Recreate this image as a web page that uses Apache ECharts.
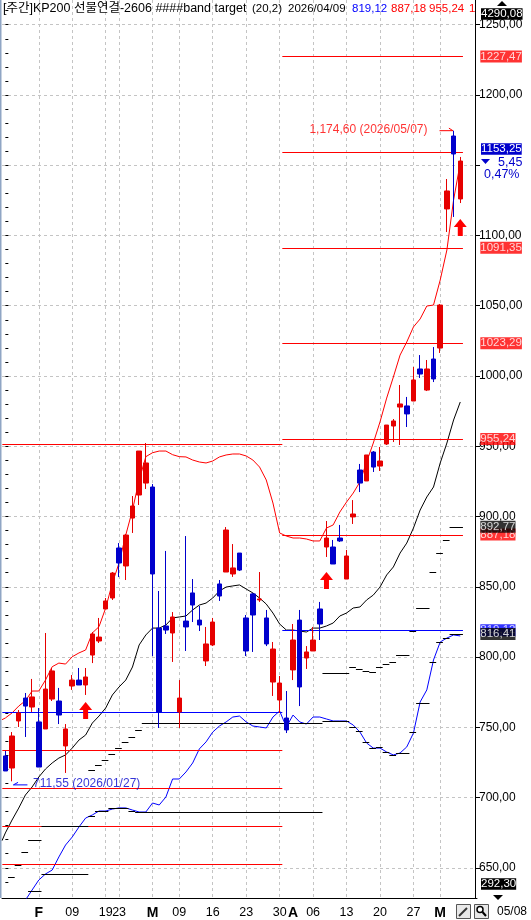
<!DOCTYPE html>
<html><head><meta charset="utf-8">
<style>html,body{margin:0;padding:0;background:#fff}#c{width:531px;height:920px}</style>
<script src="https://cdn.jsdelivr.net/npm/echarts@6/dist/echarts.min.js"></script>
</head><body><div id="c"></div>
<script>
const FONT = '"Liberation Sans","Noto Sans CJK KR",sans-serif';
const RED='#ff0000', CRED='#e60000', BLUE='#0000ff', CBLUE='#0000cc';
// category ticks
const tickIndex=[0,5,10,15,17,22,26,31,36,41,43,46,51,56,61,65];
const tickLabels=['','F','09','19','23','M','09','16','23','30','A','06','13','20','27','M'];
const gridIndex=[5,10,15,17,22,26,31,36,41,46,51,56,61,65];
const slotCount=71;
const yMajor=[650,700,750,800,850,900,950,1000,1050,1100,1200,1250];
// [open, close, low, high]
const candles=[
[729.6,718.9,718.9,733.1],[721,743.8,711.55,746.6],[754.5,760.2,750.2,762.3],[770.8,765.1,743.1,774.4],
[764.4,771.6,760.9,784.4],[753.8,721.7,721.7,763.7],[748.8,777.2,748.8,817.1],[770.1,790.1,768.7,792.2],
[768.7,758.7,752.3,778],[736.7,748.8,717.5,752.3],[779.4,783.6,776.6,787.2],[783.6,780.1,780.1,792.2],
[780.1,785.8,773,792.2],[801.4,816.4,795.7,817.8],[811.4,814.2,810,827.8],[834.2,839.9,834.2,842],
[842,859.8,840.6,860.5],[877.6,866.9,856.9,881.1],[864.8,886.8,854.8,887.6],[898.9,907.5,888.3,914.6],
[915.3,946.6,908.2,946.6],[923.8,938.1,919.6,952.3],[921,859.1,800.7,923.1],[820.6,760.9,749.5,847],
[822.1,819.2,816.4,875.5],[817.1,828.5,796.5,832],[760.9,770.8,749.5,783.6],[825.6,821.4,804.3,886.1],
[845.6,837,824.9,855.5],[826.3,822.8,818.5,836.3],[797.2,809.3,793.6,821.4],[808.6,824.9,807.8,827.8],
[852,843.4,839.9,854.8],[860.5,890.4,860.5,892.5],[859.1,863.4,857,880.4],[874,861.9,861.2,874],
[827.8,804.3,800.7,829.9],[844.9,829.9,803.6,845.6],[840.6,841.3,839.2,860.5],[827.8,809.3,807.8,833.5],
[782.2,805.7,772.3,810.7],[769.4,781.5,760.2,786.5],[756.6,748.1,745.9,775.8],[790.8,812.1,783.6,823.5],
[826.3,778.7,765.1,833.5],[799.3,803.6,791.5,807.8],[804.3,812.1,804.3,821.4],[834.2,823.5,812.1,839.2],
[878.3,884.7,871.2,896.8],[878.3,866.2,866.2,883.3],[884.7,882.6,881.9,894],[855.5,871.9,855.5,876.2],
[899.7,901.8,894.7,911.7],[933.1,923.8,917.4,937.4],[925.3,943.8,925.3,943.8],[945.9,935.2,931.7,946.6],
[935.9,939.5,932.4,949.5],[951.6,965.1,950.9,965.1],[964.4,968,953,969.4],[977.9,980.1,950.9,993.6],
[978.7,973,963.7,985.1],[982.2,997.2,982.2,1006.4],[1005,1001.4,998.6,1014.9],[990,1005,989.3,1011.4],
[1012.1,997.9,995.7,1020.6],[1019.9,1050.5,1016.4,1051.2],[1118.9,1131.7,1102.5,1140.2],[1170.8,1158,1113.2,1174.6],
[1126,1153,1123.1,1155.9]];
const upperBand=[756.6,760.2,765.1,768.9,775.8,775.8,783.6,793.1,795.7,795,800.2,802.9,805,817.1,821.6,834.9,852.7,866.9,886.8,904.6,926,942.6,945.4,946.6,946.6,944,942.6,942.4,940.2,938.8,938.1,939.5,942.4,943.8,944.5,944.5,943.1,940.2,935.2,926,909.6,888.3,886.1,884.7,884.7,884,882.6,882.6,891.8,894,903.2,910.3,916.7,924.6,938.8,952.3,967.3,984.3,999.3,1014.9,1024.2,1034.9,1040.6,1049.8,1050.5,1068.3,1089.7,1125.3,1151.6];
const midBand=[674.8,684,692.5,701.8,707.5,714.6,720.3,724.6,728.1,730.3,735.2,740.9,744.5,753,758,763.7,773,778.7,783.6,792.9,808.6,815.7,820.6,820.6,822.8,827.8,828.5,829.2,833.5,837,838.4,842,847,849.8,850.6,851.3,848.4,845.6,842,837.7,831.3,823.5,819.2,819.2,818.5,817.8,820.6,820.6,822.1,824.2,829.2,831.3,834.9,835.6,840.6,844.1,849.8,858.4,864.1,874,881.1,891.8,904.6,913.9,921,938.1,952.3,968.7,981.5];
const lowerBand=[null,null,null,627,634.2,641.3,645.6,648.4,657.7,666.2,671.9,679,685.4,687.6,690.4,690.4,691.8,692.6,692.6,691.1,689.7,689.7,696.1,694.7,700.4,713.2,713.2,718.2,724.6,734.6,739.6,746.6,750.9,753.8,757.3,758,753.8,750.9,750.2,749.5,757.3,761.6,750.2,758.7,753.8,752.3,757.3,757.3,755.9,754.5,754.5,754.5,751.6,746.6,738.8,735.2,735.2,732.4,730.3,731.7,736,745.9,768,776.6,797.9,810.7,813.5,815.7,815];
// band values just off the left edge of the window
const upperLead=[-0.5,755.4];
const midLead=[-0.5,669.3];
// horizontal segments: [from slot, to slot, value]
const redLeft=[[-0.45,41.4,951.3],[-0.45,41.4,733.7],[-0.45,41.4,706.7],[-0.45,41.4,679.7],[-0.45,41.4,652.7]];
const redRight=[[41.4,68.4,1227.47],[41.4,68.4,1159.41],[41.4,68.4,1091.35],[41.4,68.4,1023.29],[41.4,68.4,955.24],[41.4,68.4,887.18]];
const blueLines=[[-0.45,41.4,760.6],[41.4,68.4,819.12]];
const stepsLow=[[0.4,1.4,643.4],[1.4,2.4,652],[2.4,3.4,661.2],[3.4,5.4,669.8],[3.4,5.4,633.5],[5.4,12.4,645.6],[5.4,12.4,679.7],[12.4,13.4,686.9],[13.4,15.4,690.4],[15.4,18.4,692.6],[18.4,19.4,690.4],[19.4,47.4,689.7]];
const stepsMid=[[12.4,13.4,719.6],[13.4,14.4,723.1],[14.4,15.4,726.7],[15.4,16.4,731],[16.4,17.4,735.2],[17.4,18.4,739.5],[18.4,19.4,743.1],[19.4,20.4,748.1],[20.4,47.4,753],[47.4,51.4,754.5],[51.4,52.4,750.2],[52.4,53.4,747.3],[53.4,54.4,739.5],[54.4,55.4,735.2],[55.4,56.4,735.9],[56.4,57.4,732.4],[57.4,58.4,730.3],[58.4,60.4,731.7],[60.4,61.4,746.6],[61.4,63.4,767.3],[63.4,64.4,796.5],[64.4,65.4,810.7],[65.4,66.4,813.5],[66.4,68.4,816.4]];
const stepsHigh=[[47.4,51.4,788.6],[51.4,52.4,792.9],[52.4,53.4,791.5],[53.4,54.4,790.1],[54.4,55.4,789.3],[55.4,56.4,792.9],[56.4,57.4,795],[57.4,58.4,796.5],[58.4,60.4,801.4],[60.4,61.4,818.5],[61.4,63.4,834.9],[63.4,64.4,860.5],[64.4,65.4,874],[65.4,66.4,883.3],[66.4,68.4,892.5]];
const signalArrows=[[12,761.9],[48,854.5],[68,1105.7]];
const tags=[['1227,47',1227.47,RED],['1091,35',1091.35,RED],['1023,29',1023.29,RED],['955,24',955.24,RED],['819,12',819.12,BLUE],['816,41',816.41,'#000'],['887,18',887.18,RED],['892,77',892.77,'#000']];
const headText=[['[주간]KP200 선물연결-2606 ####band target',3,'#000',12.5],['(20,2)',252,'#000',11.5],['2026/04/09',288,'#000',11.5],['819,12',352,BLUE,11.5],['887,18',391,RED,11.5],['955,24',429,RED,11.5],['1',469,RED,11.5]];

const categories=Array.from({length:slotCount},(_,i)=>{const k=tickIndex.indexOf(i);return k>=0?tickLabels[k]:''});
const seq=a=>a.map((v,i)=>[i,v]);
const lineS=(name,data,color)=>({name,type:'line',xAxisIndex:1,yAxisIndex:0,data,showSymbol:false,symbol:'none',silent:true,connectNulls:false,lineStyle:{color,width:1},z:2,animation:false});
const segS=(name,data,color,z)=>({name,type:'custom',xAxisIndex:1,yAxisIndex:0,data,silent:true,z:z||3,clip:false,encode:{x:[0,1],y:2},animation:false,
  renderItem:(p,api)=>{const a=api.coord([api.value(0),api.value(2)]),b=api.coord([api.value(1),api.value(2)]);const y=Math.round(a[1])+0.5;
    return {type:'line',shape:{x1:a[0],y1:y,x2:b[0],y2:y},style:{stroke:color,lineWidth:1}}}});
const gfxText=(text,x,y,fill,size)=>({type:'text',x,y,z:20,style:{text,fill,font:(size||12)+'px '+FONT,textVerticalAlign:'middle'}});
const gfxTag=(text,x,y,bg)=>({type:'text',x,y,z:20,style:{text,fill:'#fff',font:'11.5px '+FONT,textVerticalAlign:'middle',backgroundColor:bg}});
const option={
  animation:false,backgroundColor:'#fff',
  grid:{left:2,top:0,width:475,height:898,containLabel:false},
  xAxis:[
   {type:'category',data:categories,boundaryGap:true,position:'bottom',
    axisLine:{lineStyle:{color:'#000',width:1}},
    axisTick:{alignWithLabel:true,length:5,lineStyle:{color:'#000'},interval:i=>tickIndex.includes(i)},
    axisLabel:{interval:(i,v)=>v!=='',hideOverlap:false,margin:8,color:'#000',fontFamily:FONT,fontSize:12.5,
      formatter:v=>/[A-Z]/.test(v)?`{b|${v}}`:v,rich:{b:{fontFamily:'Liberation Sans',fontWeight:'bold',fontSize:14,color:'#000'}}},
    splitLine:{show:true,alignWithLabel:true,interval:i=>gridIndex.includes(i),lineStyle:{color:'#c4c4c4',type:[3,3],width:1}}},
   {type:'value',min:-0.5,max:70.5,show:false,splitLine:{show:false}}
  ],
  yAxis:[
   {type:'value',position:'right',offset:-2,min:628.5,max:1267.6,
    axisLine:{show:true,onZero:false,lineStyle:{color:'#000',width:1}},
    axisTick:{show:true,length:5,lineStyle:{color:'#000'},customValues:yMajor.concat([1150])},
    axisLabel:{customValues:yMajor,showMinLabel:true,showMaxLabel:true,margin:4,color:'#000',fontFamily:FONT,fontSize:12,align:'left',
      formatter:v=>v.toFixed(2).replace('.',',')},
    splitLine:{show:true,lineStyle:{color:'#c4c4c4',type:[3,3],width:1}}},
   {type:'value',position:'right',offset:-2,min:628.5,max:1267.6,
    axisLine:{show:false},axisLabel:{show:false},splitLine:{show:false},
    axisTick:{show:true,length:3,lineStyle:{color:'#000'},customValues:Array.from({length:63},(_,i)=>640+i*10)}}
  ],
  series:[
   lineS('upper',[upperLead].concat(seq(upperBand)),RED),
   lineS('mid',[midLead].concat(seq(midBand)),'#000'),
   lineS('lower',seq(lowerBand),BLUE),
   segS('redL',redLeft,RED),segS('redR',redRight,RED),segS('blueH',blueLines,BLUE),
   segS('low',stepsLow,'#000',4),segS('midS',stepsMid,'#000',4),segS('highS',stepsHigh,'#000',4),
   {type:'candlestick',xAxisIndex:0,yAxisIndex:0,data:candles,barWidth:5,silent:true,z:5,clip:false,
    itemStyle:{color:CRED,color0:CBLUE,borderColor:CRED,borderColor0:CBLUE,borderWidth:1}},
   {type:'scatter',xAxisIndex:1,yAxisIndex:0,data:signalArrows,silent:true,z:6,
    symbol:'path://M6.5 0 L13 8 L9 8 L9 17 L4 17 L4 8 L0 8 Z',symbolKeepAspect:false,symbolSize:[13,17],itemStyle:{color:RED,opacity:1}},
   lineS('hiArrow',[[64.9,1174.6],[66.9,1174.6],[66.3,1176.4]],RED),
   lineS('loArrow',[[1.9,710.8],[1.2,709],[3.3,709]],BLUE),
   {type:'scatter',xAxisIndex:1,yAxisIndex:0,symbolSize:0,silent:true,z:7,clip:false,
    data:[{value:[64.6,1175.5],label:{show:true,position:'left',distance:10,formatter:'1,174,60 (2026/05/07)',color:RED,fontFamily:FONT,fontSize:12}},
          {value:[3.7,709.5],label:{show:true,position:'right',distance:3,formatter:'711,55 (2026/01/27)',color:CBLUE,fontFamily:FONT,fontSize:12}}]},
   {type:'scatter',xAxisIndex:1,yAxisIndex:0,symbolSize:0,silent:true,z:8,clip:false,
    data:tags.map(t=>({value:[70.4,t[1]],label:{show:true,position:'right',distance:4,formatter:t[0],color:'#fff',backgroundColor:t[2],padding:[0,0],lineHeight:12,fontFamily:FONT,fontSize:11.5}}))}
  ],
  graphic:[
   {type:'rect',shape:{x:0,y:0,width:1.5,height:898},style:{fill:'#8fa5c4'},z:20},
   ...headText.map(t=>gfxText(t[0],t[1],9,t[2],t[3])),
   {type:'polygon',shape:{points:[[502,1],[497,6],[507,6]]},style:{fill:'#000'},z:20},
   gfxTag('4290,08',481,14,'#000'),
   gfxTag('1153,25',481,149,CBLUE),
   {type:'polygon',shape:{points:[[481,159],[490,159],[485.5,164]]},style:{fill:CBLUE},z:20},
   gfxText('5,45',498,163,CBLUE,12.5),
   gfxText('0,47%',484,175,CBLUE,12.5),
   gfxTag('292,30',481,884,'#000'),
   {type:'polygon',shape:{points:[[493,895],[503,895],[498,900]]},style:{fill:'#000'},z:20},
   gfxText('05/08',497,912,'#000',12),
   {type:'rect',shape:{x:456.5,y:904.5,width:14,height:14},style:{fill:'#e8e8e8',stroke:'#555'},z:20},
   {type:'line',shape:{x1:459,y1:916,x2:467,y2:908},style:{stroke:'#333',lineWidth:2},z:21},
   {type:'rect',shape:{x:474.5,y:904.5,width:14,height:14},style:{fill:'#e8e8e8',stroke:'#555'},z:20},
   {type:'circle',shape:{cx:480,cy:909.5,r:3},style:{fill:'#fff',stroke:'#000',lineWidth:1.5},z:21},
   {type:'line',shape:{x1:482.5,y1:912,x2:486,y2:916},style:{stroke:'#000',lineWidth:2},z:21}
  ]
};
echarts.init(document.getElementById('c'),null,{renderer:'canvas'}).setOption(option);
</script></body></html>
